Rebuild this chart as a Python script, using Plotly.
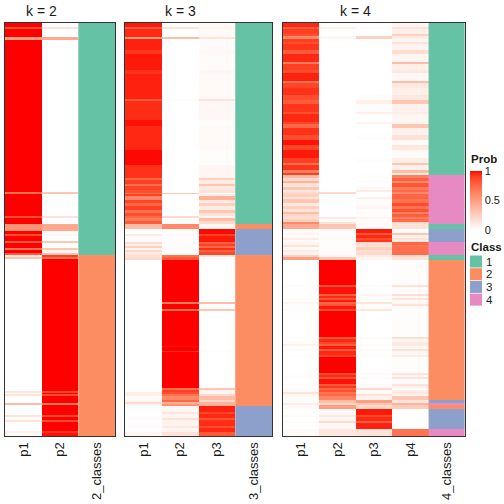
import numpy as np
import plotly.graph_objects as go

# ---------------- data (segments of consecutive samples, top to bottom) ----------------
# k = 2
k2_n = [4, 2, 8, 3, 152, 2, 22, 2, 6, 7, 3, 2, 5, 2, 5, 2, 3, 2,
        2, 2, 132, 2, 1, 2, 7, 2, 10, 2, 3, 2, 9, 2, 3]
k2_p1 = [1, 0.85, 1, 0.5, 1, 0.7, 1, 0.85, 1, 0.55, 1, 0.85, 1, 0.8, 1, 0.7, 1, 0.8,
         0.1, 0.3, 0, 0.15, 0, 0.15, 0, 0.35, 0, 0.15, 0, 0.15, 0, 0.08, 0.02]
k2_p2 = [0, 0.15, 0, 0.45, 0, 0.3, 0, 0.15, 0, 0.45, 0.02, 0.05, 0, 0.3, 0, 0.3, 0.05, 0.3,
         0.9, 0.7, 1, 0.85, 1, 0.85, 1, 0.65, 1, 0.85, 1, 0.85, 1, 0.92, 0.98]
k2_cls = [1] * 18 + [2] * 15

# k = 3
k3_n = [4, 2, 8, 2, 11, 4, 16, 4, 25, 2, 19, 6, 24, 15, 13, 2, 4, 2, 4, 3, 1, 2, 4, 3, 3, 4, 3, 3, 2, 3, 3,
        5,
        5, 2, 6, 2, 2, 2, 2, 2, 3,
        2, 3, 42, 2, 5, 2, 35, 1, 4, 1, 36, 2, 2, 2, 2, 4, 2, 2, 2,
        6, 2, 4, 2, 6, 2, 4, 4]
k3_p1 = [0.97, 0.8, 0.95, 0.5, 0.96, 0.92, 0.97, 0.93, 0.96, 0.8, 0.94, 0.98, 0.95, 0.99, 0.93,
         0.75, 0.9, 0.7, 0.88, 0.85, 0.7, 0.9, 0.6, 0.88, 0.75, 0.9, 0.7, 0.85, 0.75, 0.65, 0.8,
         0.35,
         0, 0.1, 0.02, 0.2, 0.08, 0.25, 0.05, 0.2, 0.12,
         0.15, 0.2, 0, 0, 0, 0, 0, 0.02, 0, 0, 0, 0, 0, 0.1, 0.08, 0.02, 0.05, 0.2, 0.05,
         0, 0, 0, 0.02, 0, 0.02, 0, 0.05]
k3_p2 = [0, 0.15, 0, 0.35, 0, 0, 0, 0, 0, 0.02, 0, 0, 0, 0, 0,
         0, 0, 0, 0, 0, 0.3, 0, 0, 0, 0, 0, 0, 0, 0.2, 0, 0,
         0.6,
         0.01, 0.02, 0.01, 0.02, 0.02, 0.02, 0.01, 0.02, 0.01,
         0.7, 0.8, 1, 0.65, 1, 0.7, 1, 0.98, 1, 0.93, 1, 0.7, 0.9, 0.85, 0.7, 0.6, 0.75, 0.4, 0.55,
         0.04, 0.12, 0.05, 0.15, 0.06, 0.12, 0.05, 0.15]
k3_p3 = [0.03, 0.05, 0.03, 0.15, 0.02, 0.04, 0.02, 0.04, 0.03, 0.15, 0.04, 0.01, 0.03, 0.01, 0.05,
         0.25, 0.1, 0.3, 0.12, 0.15, 0, 0.1, 0.4, 0.12, 0.25, 0.1, 0.3, 0.15, 0.05, 0.35, 0.2,
         0.05,
         0.99, 0.88, 0.97, 0.78, 0.9, 0.73, 0.94, 0.78, 0.87,
         0.15, 0, 0, 0.35, 0, 0.3, 0, 0, 0, 0.02, 0, 0.3, 0.05, 0.05, 0.2, 0.35, 0.2, 0.4, 0.4,
         0.96, 0.88, 0.95, 0.83, 0.94, 0.86, 0.95, 0.8]
k3_cls = [1] * 31 + [2] + [3] * 9 + [2] * 19 + [3] * 8

# k = 4
k4_n = [4, 2, 5, 2, 3, 3, 2, 6, 4, 8, 2, 6, 3, 8, 2, 5, 7, 5, 4, 8, 2, 8, 2, 4, 7, 5, 5, 5, 8, 5, 2, 5, 3, 2,
        3, 3, 2, 4, 3, 2, 2, 3, 2, 4, 3, 3, 3, 2, 3, 2, 3, 2,
        5,
        4, 2, 3, 2, 2,
        3, 2, 3, 2, 3,
        2, 3,
        25, 2, 7, 2, 2, 2, 2, 2, 2, 3, 2, 26, 2, 3, 2, 2, 3, 2, 4, 2, 16, 2, 2, 2, 5, 2, 2, 2, 2, 2, 2, 4,
        3, 2, 4,
        6, 2, 4, 2, 6,
        7]
k4_p1 = [0.95, 0.8, 0.9, 0.85, 0.6, 0.9, 0.85, 0.92, 0.8, 0.95, 0.65, 0.9, 0.85, 0.96, 0.7, 0.88, 0.93,
         0.85, 0.8, 0.92, 0.85, 0.95, 0.88, 0.75, 0.93, 0.85, 0.98, 0.88, 0.97, 0.9, 0.7, 0.92, 0.65, 0.9,
         0.35, 0.2, 0.4, 0.15, 0.3, 0.12, 0.2, 0.25, 0.15, 0.3, 0.12, 0.25, 0.15, 0.35, 0.2, 0.18, 0.25, 0.6,
         0.45,
         0.02, 0.05, 0.02, 0.1, 0.03,
         0.05, 0.15, 0.03, 0.12, 0.05,
         0.25, 0.5,
         0, 0.01, 0, 0, 0, 0.02, 0, 0.05, 0.01, 0, 0.02, 0, 0.01, 0, 0.01, 0.08, 0, 0.02, 0, 0.01,
         0, 0, 0.01, 0.01, 0, 0.02, 0, 0.02, 0.02, 0.15, 0.05, 0.02,
         0.02, 0.1, 0.03,
         0, 0.02, 0, 0.02, 0,
         0.03]
k4_p2 = [0, 0.08, 0, 0, 0.05, 0, 0, 0, 0, 0, 0, 0, 0, 0, 0, 0, 0,
         0, 0, 0, 0, 0, 0, 0, 0, 0, 0, 0, 0, 0, 0, 0, 0, 0,
         0, 0, 0, 0, 0, 0, 0.2, 0, 0, 0, 0, 0, 0, 0, 0, 0.12, 0, 0.15,
         0.3,
         0.01, 0.01, 0.01, 0.02, 0.01,
         0.01, 0.01, 0.01, 0.01, 0.02,
         0.05, 0.3,
         1, 0.82, 0.98, 0.78, 0.95, 0.82, 0.97, 0.75, 0.82, 0.97, 0.85, 1, 0.8, 0.95, 0.88, 0.78,
         0.97, 0.8, 0.95, 0.88, 1, 0.85, 0.95, 0.82, 0.98, 0.8, 0.92, 0.75, 0.85, 0.7, 0.75, 0.62,
         0.35, 0.2, 0.5,
         0.03, 0.12, 0.05, 0.2, 0.04,
         0.12]
k4_p3 = [0, 0.02, 0, 0, 0.25, 0, 0, 0, 0, 0, 0, 0, 0, 0, 0, 0, 0,
         0.02, 0.08, 0.01, 0.08, 0, 0.06, 0, 0, 0.01, 0, 0, 0, 0.01, 0, 0, 0, 0,
         0.01, 0, 0.02, 0, 0.03, 0.1, 0, 0, 0.08, 0.01, 0.02, 0.05, 0.01, 0.02, 0.01, 0.05, 0.02, 0.02,
         0.02,
         0.97, 0.8, 0.95, 0.85, 0.92,
         0.2, 0.15, 0.25, 0.18, 0.2,
         0.1, 0.05,
         0, 0.02, 0, 0.05, 0.02, 0.01, 0, 0.15, 0.02, 0.01, 0.13, 0, 0.02, 0, 0, 0.02,
         0, 0.02, 0.01, 0.01, 0, 0.02, 0, 0.02, 0, 0.03, 0.02, 0.2, 0.03, 0.03, 0.15, 0.06,
         0.5, 0.3, 0.2,
         0.97, 0.86, 0.95, 0.78, 0.96,
         0.15]
k4_p4 = [0.05, 0.15, 0.08, 0.25, 0.1, 0.05, 0.15, 0.06, 0.18, 0.05, 0.35, 0.08, 0.12, 0.04, 0.35, 0.12, 0.08,
         0.12, 0.3, 0.07, 0.1, 0.05, 0.06, 0.3, 0.07, 0.15, 0.02, 0.12, 0.03, 0.09, 0.3, 0.08, 0.35, 0.1,
         0.64, 0.78, 0.58, 0.82, 0.67, 0.75, 0.6, 0.75, 0.77, 0.69, 0.86, 0.7, 0.84, 0.63, 0.79, 0.65, 0.73, 0.2,
         0.15,
         0.02, 0.3, 0.08, 0.15, 0.1,
         0.75, 0.7, 0.72, 0.7, 0.73,
         0.2, 0.15,
         0.01, 0.15, 0.02, 0.17, 0.03, 0.15, 0.03, 0.05, 0.15, 0.02, 0, 0.01, 0.17, 0.05, 0.11, 0.12,
         0.03, 0.16, 0.04, 0.1, 0.01, 0.13, 0.04, 0.15, 0.02, 0.15, 0.06, 0.03, 0.1, 0.12, 0.05, 0.3,
         0.13, 0.4, 0.27,
         0, 0, 0, 0, 0,
         0.7]
k4_cls = ([1] * 34 + [4] * 18 + [1] + [3] * 5 + [4] * 5 + [1] * 2 + [2] * 32
          + [3] + [4] + [2] + [3] * 5 + [4])

panel_titles = ["k = 2", "k = 3", "k = 4"]
prob_ticks = [0, 0.5, 1]
class_labels = ["1", "2", "3", "4"]
class_colors = ["#66C2A5", "#FC8D62", "#8DA0CB", "#E78AC3"]

# ---------------- colour ramp white -> red in LAB space ----------------
def _lin(c):
    c = c / 255.0
    return np.where(c <= 0.04045, c / 12.92, ((c + 0.055) / 1.055) ** 2.4)

def _gam(c):
    c = np.clip(c, 0, 1)
    return np.where(c <= 0.0031308, 12.92 * c, 1.055 * c ** (1 / 2.4) - 0.055)

M = np.array([[0.4124, 0.3576, 0.1805], [0.2126, 0.7152, 0.0722], [0.0193, 0.1192, 0.9505]])
Mi = np.linalg.inv(M)
WP = np.array([0.95047, 1.0, 1.08883])

def rgb2lab(rgb):
    xyz = M @ _lin(np.array(rgb, float)) / WP
    f = np.where(xyz > 0.008856, np.cbrt(xyz), 7.787 * xyz + 16 / 116)
    return np.array([116 * f[1] - 16, 500 * (f[0] - f[1]), 200 * (f[1] - f[2])])

def lab2rgb(lab):
    fy = (lab[0] + 16) / 116
    f = np.array([fy + lab[1] / 500, fy, fy - lab[2] / 200])
    xyz = np.where(f ** 3 > 0.008856, f ** 3, (f - 16 / 116) / 7.787) * WP
    return np.round(_gam(Mi @ xyz) * 255).astype(int)

lw, lr = rgb2lab([255, 255, 255]), rgb2lab([255, 0, 0])
prob_scale = []
for t in np.linspace(0, 1, 21):
    r, g, b = lab2rgb(lw + (lr - lw) * t)
    prob_scale.append([float(t), f"rgb({r},{g},{b})"])

class_scale = []
for i, c in enumerate(class_colors):
    class_scale += [[i / 4, c], [(i + 1) / 4, c]]

# ---------------- figure ----------------
W = H = 504
def px(x):
    return x / W
def py(y):
    return 1 - y / H

panels = [
    (k2_n, [k2_p1, k2_p2], k2_cls, (5, 115), "2_classes"),
    (k3_n, [k3_p1, k3_p2, k3_p3], k3_cls, (125, 272), "3_classes"),
    (k4_n, [k4_p1, k4_p2, k4_p3, k4_p4], k4_cls, (283, 465), "4_classes"),
]
top, bottom = 23, 436

fig = go.Figure()
layout = {}
font_family = "Liberation Sans, Arial, sans-serif"
for i, (n, probs, cls, (x0, x1), cname) in enumerate(panels):
    sfx = "" if i == 0 else str(i + 1)
    edges = np.concatenate([[0], np.cumsum(n)])
    ncol = len(probs)
    z = np.array(probs, float).T
    fig.add_trace(go.Heatmap(z=z, x=np.arange(ncol + 1), y=edges, coloraxis="coloraxis",
                             xaxis="x" + sfx, yaxis="y" + sfx, hoverinfo="skip"))
    fig.add_trace(go.Heatmap(z=np.array(cls, float)[:, None], x=[ncol, ncol + 1], y=edges,
                             colorscale=class_scale, zmin=0.5, zmax=4.5, showscale=False,
                             xaxis="x" + sfx, yaxis="y" + sfx, hoverinfo="skip"))
    labels = [f"p{j + 1}" for j in range(ncol)] + [cname]
    layout["xaxis" + sfx] = dict(domain=[px(x0), px(x1)], anchor="y" + sfx, range=[0, ncol + 1],
                                 tickvals=[j + 0.5 for j in range(ncol + 1)], ticktext=labels,
                                 tickangle=-90, ticks="", showgrid=False, zeroline=False,
                                 automargin=False,
                                 showline=True, linecolor="#333333", linewidth=1, mirror=True,
                                 tickfont=dict(size=13, color="#1a1a1a", family=font_family))
    layout["yaxis" + sfx] = dict(domain=[py(bottom), py(top)], anchor="x" + sfx,
                                 range=[edges[-1], 0], showticklabels=False, ticks="",
                                 showgrid=False, zeroline=False, automargin=False,
                                 showline=True, linecolor="#333333", linewidth=1, mirror=True)
    # title centred over the probability columns
    xc = x0 + (x1 - x0) * ncol / (ncol + 1) / 2
    fig.add_annotation(x=px(xc), y=py(11), xref="paper", yref="paper", text=panel_titles[i],
                       showarrow=False, font=dict(size=14, color="#1a1a1a", family=font_family),
                       xanchor="center", yanchor="middle")

fig.update_layout(
    width=W, height=H, margin=dict(l=0, r=0, t=0, b=0, autoexpand=False),
    paper_bgcolor="white", plot_bgcolor="white", template="none",
    coloraxis=dict(colorscale=prob_scale, cmin=0, cmax=1,
                   colorbar=dict(x=px(470), xanchor="left", y=py(171), yanchor="top",
                                 len=59, lenmode="pixels", thickness=12, xpad=0, ypad=0,
                                 outlinewidth=0, tickvals=prob_ticks,
                                 ticktext=[str(v) for v in prob_ticks], ticks="",
                                 tickfont=dict(size=11, color="#1a1a1a", family=font_family))),
    **layout,
)

# legend titles
fig.add_annotation(x=px(469), y=py(158.5), xref="paper", yref="paper", text="<b>Prob</b>",
                   showarrow=False, xanchor="left", yanchor="middle", height=11,
                   font=dict(size=11.5, color="#1a1a1a", family=font_family))
fig.add_annotation(x=px(469), y=py(246), xref="paper", yref="paper", text="<b>Class</b>",
                   showarrow=False, xanchor="left", yanchor="middle", height=11,
                   font=dict(size=11.5, color="#1a1a1a", family=font_family))
# class legend keys
for j, (lab, col) in enumerate(zip(class_labels, class_colors)):
    y0 = 255.5 + j * 12.7
    fig.add_shape(type="rect", xref="paper", yref="paper", x0=px(470), x1=px(482),
                  y0=py(y0), y1=py(y0 + 12), fillcolor=col, line=dict(width=0))
    fig.add_annotation(x=px(484), y=py(y0 + 6), xref="paper", yref="paper", text=lab,
                       showarrow=False, xanchor="left", yanchor="middle", height=10,
                       font=dict(size=11.5, color="#1a1a1a", family=font_family))

fig.write_html("out.html", config={"displayModeBar": False},
               post_script="document.body.style.margin='0';")
